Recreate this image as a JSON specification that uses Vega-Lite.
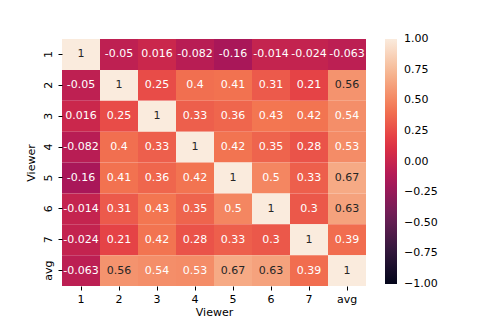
{
  "$schema": "https://vega.github.io/schema/vega-lite/v6.json",
  "autosize": "none",
  "padding": {"left": 62, "top": 39, "right": 125, "bottom": 41},
  "width": 304,
  "height": 247,
  "background": "white",
  "config": {
    "font": "DejaVu Sans",
    "view": {"stroke": null},
    "axis": {"domain": false, "tickColor": "#000", "tickSize": 4, "labelColor": "#000", "labelFontSize": 11, "titleFontSize": 11, "titleFontWeight": "normal", "titleColor": "#000", "labelPadding": 3}
  },
  "data": {"values": [
    {"r": "1", "c": "1", "v": 1}, {"r": "1", "c": "2", "v": -0.05}, {"r": "1", "c": "3", "v": 0.016}, {"r": "1", "c": "4", "v": -0.082}, {"r": "1", "c": "5", "v": -0.16}, {"r": "1", "c": "6", "v": -0.014}, {"r": "1", "c": "7", "v": -0.024}, {"r": "1", "c": "avg", "v": -0.063},
    {"r": "2", "c": "1", "v": -0.05}, {"r": "2", "c": "2", "v": 1}, {"r": "2", "c": "3", "v": 0.25}, {"r": "2", "c": "4", "v": 0.4}, {"r": "2", "c": "5", "v": 0.41}, {"r": "2", "c": "6", "v": 0.31}, {"r": "2", "c": "7", "v": 0.21}, {"r": "2", "c": "avg", "v": 0.56},
    {"r": "3", "c": "1", "v": 0.016}, {"r": "3", "c": "2", "v": 0.25}, {"r": "3", "c": "3", "v": 1}, {"r": "3", "c": "4", "v": 0.33}, {"r": "3", "c": "5", "v": 0.36}, {"r": "3", "c": "6", "v": 0.43}, {"r": "3", "c": "7", "v": 0.42}, {"r": "3", "c": "avg", "v": 0.54},
    {"r": "4", "c": "1", "v": -0.082}, {"r": "4", "c": "2", "v": 0.4}, {"r": "4", "c": "3", "v": 0.33}, {"r": "4", "c": "4", "v": 1}, {"r": "4", "c": "5", "v": 0.42}, {"r": "4", "c": "6", "v": 0.35}, {"r": "4", "c": "7", "v": 0.28}, {"r": "4", "c": "avg", "v": 0.53},
    {"r": "5", "c": "1", "v": -0.16}, {"r": "5", "c": "2", "v": 0.41}, {"r": "5", "c": "3", "v": 0.36}, {"r": "5", "c": "4", "v": 0.42}, {"r": "5", "c": "5", "v": 1}, {"r": "5", "c": "6", "v": 0.5}, {"r": "5", "c": "7", "v": 0.33}, {"r": "5", "c": "avg", "v": 0.67},
    {"r": "6", "c": "1", "v": -0.014}, {"r": "6", "c": "2", "v": 0.31}, {"r": "6", "c": "3", "v": 0.43}, {"r": "6", "c": "4", "v": 0.35}, {"r": "6", "c": "5", "v": 0.5}, {"r": "6", "c": "6", "v": 1}, {"r": "6", "c": "7", "v": 0.3}, {"r": "6", "c": "avg", "v": 0.63},
    {"r": "7", "c": "1", "v": -0.024}, {"r": "7", "c": "2", "v": 0.21}, {"r": "7", "c": "3", "v": 0.42}, {"r": "7", "c": "4", "v": 0.28}, {"r": "7", "c": "5", "v": 0.33}, {"r": "7", "c": "6", "v": 0.3}, {"r": "7", "c": "7", "v": 1}, {"r": "7", "c": "avg", "v": 0.39},
    {"r": "avg", "c": "1", "v": -0.063}, {"r": "avg", "c": "2", "v": 0.56}, {"r": "avg", "c": "3", "v": 0.54}, {"r": "avg", "c": "4", "v": 0.53}, {"r": "avg", "c": "5", "v": 0.67}, {"r": "avg", "c": "6", "v": 0.63}, {"r": "avg", "c": "7", "v": 0.39}, {"r": "avg", "c": "avg", "v": 1}
  ]},
  "encoding": {
    "x": {"field": "c", "type": "ordinal", "sort": ["1","2","3","4","5","6","7","avg"], "scale": {"paddingInner": 0, "paddingOuter": 0}, "axis": {"title": "Viewer", "labelAngle": 0, "titlePadding": 2}},
    "y": {"field": "r", "type": "ordinal", "sort": ["1","2","3","4","5","6","7","avg"], "scale": {"paddingInner": 0, "paddingOuter": 0}, "axis": {"title": "Viewer", "labelAngle": -90, "labelAlign": "center", "labelBaseline": "bottom", "labelPadding": 5, "titlePadding": 6}}
  },
  "layer": [
    {
      "mark": {"type": "rect"},
      "encoding": {
        "color": {"field": "v", "type": "quantitative",
          "scale": {"domain": [-1, 1], "type": "linear", "interpolate": "rgb",
            "range": ["#03051a", "#35193e", "#701f57", "#ad1759", "#e13342", "#f37651", "#f6b48f", "#faebdd"]},
          "legend": {"title": null, "direction": "vertical", "gradientLength": 245, "gradientThickness": 12, "values": [-1, -0.75, -0.5, -0.25, 0, 0.25, 0.5, 0.75, 1], "format": ".2f", "labelExpr": "replace(datum.label, '-', '\u2212')", "labelFontSize": 11, "labelColor": "#000", "labelOffset": 7, "labelOverlap": false, "offset": 19, "gradientStrokeWidth": 0, "padding": 0,
            "encode": {"labels": {"update": {"baseline": {"value": "middle"}}}}}
        }
      }
    },
    {
      "mark": {"type": "text", "fontSize": 11},
      "encoding": {
        "text": {"field": "v", "type": "nominal"},
        "color": {"condition": {"test": "datum.v >= 0.55", "value": "#262626"}, "value": "#ffffff"}
      }
    }
  ]
}
